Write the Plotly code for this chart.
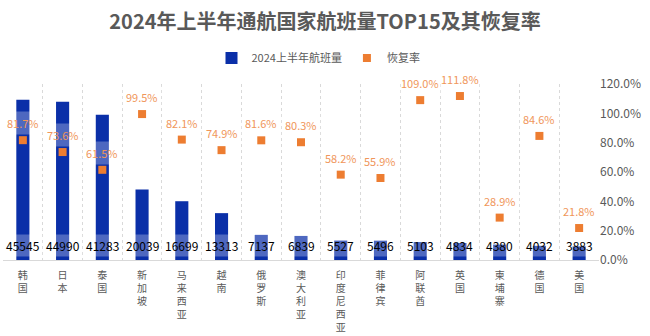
import plotly.graph_objects as go

categories = ["韩国", "日本", "泰国", "新加坡", "马来西亚", "越南", "俄罗斯", "澳大利亚",
              "印度尼西亚", "菲律宾", "阿联酋", "英国", "柬埔寨", "德国", "美国"]
flights = [45545, 44990, 41283, 20039, 16699, 13313, 7137, 6839, 5527, 5496, 5103, 4834, 4380, 4032, 3883]
recovery = [0.817, 0.736, 0.615, 0.995, 0.821, 0.749, 0.816, 0.803, 0.582, 0.559, 1.090, 1.118, 0.289, 0.846, 0.218]

FONT = "Noto Sans CJK SC"
TICKFONT = "Lato, 'Noto Sans CJK SC'"
GRAY = "#595959"
BLUE = "#0A2FA8"
ORANGE = "#ED7D31"

fig = go.Figure()
fig.add_trace(go.Bar(x=categories, y=flights, name="2024上半年航班量",
                     marker=dict(color=BLUE, line=dict(width=0)), width=0.33, yaxis="y"))
fig.add_trace(go.Scatter(x=categories, y=recovery, name="恢复率", mode="markers",
                         marker=dict(symbol="square", size=8, color=ORANGE), yaxis="y2"))

annotations = []
for c, v in zip(categories, flights):
    annotations.append(dict(x=c, y=0, xref="x", yref="y", text=str(v), showarrow=False,
                            yanchor="bottom", yshift=3, font=dict(size=12, color="#000000", family=FONT),
                            bgcolor="rgba(255,255,255,0.28)", borderpad=2))
for c, r in zip(categories, recovery):
    annotations.append(dict(x=c, y=r, xref="x", yref="y2", text=f"{r*100:.1f}%", showarrow=False,
                            yanchor="middle", yshift=17, font=dict(size=11, color="#F0965A", family=FONT),
                            bgcolor="rgba(255,255,255,0.28)", borderpad=3))

fig.update_layout(
    width=650, height=336,
    margin=dict(l=3, r=51, t=84, b=76, autoexpand=False),
    paper_bgcolor="white", plot_bgcolor="white",
    font=dict(family=FONT, color=GRAY),
    title=dict(text="<b>2024年上半年通航国家航班量TOP15及其恢复率</b>", x=0.5, xanchor="center",
               y=1 - 22/336, yanchor="middle", font=dict(size=20, color=GRAY, family=FONT)),
    legend=dict(orientation="h", x=0.49, xanchor="center", xref="container",
                y=1 - 58/336, yref="container", yanchor="middle",
                font=dict(size=11, color=GRAY, family=FONT), itemwidth=30, traceorder="normal"),
    xaxis=dict(type="category", range=[-0.5, len(categories) - 0.5],
               tickson="boundaries", showgrid=True, gridcolor="#D9D9D9",
               griddash="dot", gridwidth=1, showline=True, linecolor="#D9D9D9", ticks="",
               tickvals=categories, ticktext=["<br>".join(list(c)) for c in categories],
               tickfont=dict(size=10, color=GRAY, family=TICKFONT), tickangle=0,
               automargin=False, ticklabelstandoff=6),
    yaxis=dict(range=[0, 50000], visible=False, showgrid=False, automargin=False),
    yaxis2=dict(range=[0, 1.2], overlaying="y", side="right", tickformat=".1%", dtick=0.2,
                showgrid=False, zeroline=False, showline=False, automargin=False,
                tickfont=dict(size=12, color=GRAY, family=FONT)),
    annotations=annotations,
)

fig.write_html("out.html")
